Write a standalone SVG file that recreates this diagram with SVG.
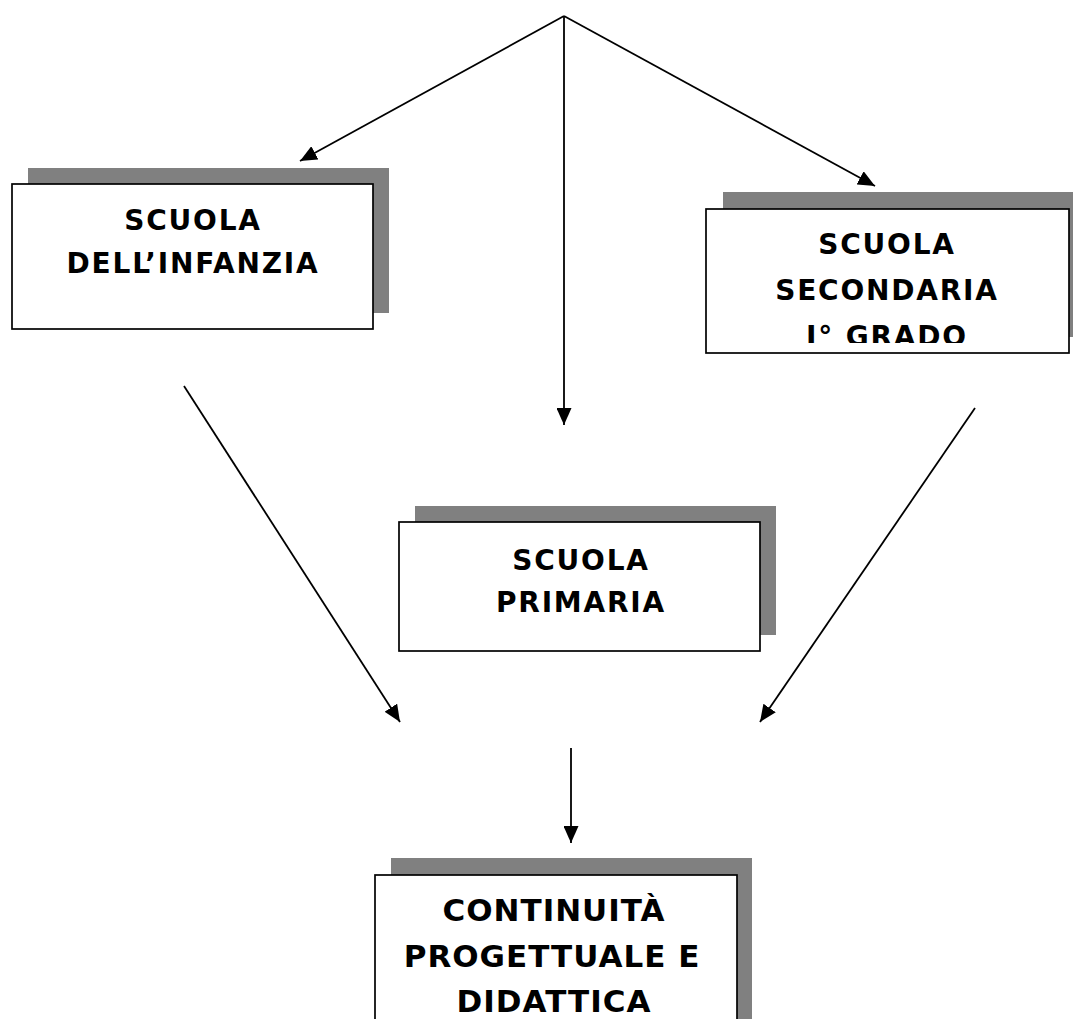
<svg xmlns="http://www.w3.org/2000/svg" width="1073" height="1019" viewBox="0 0 1073 1019">
<style>
.shadow{fill:#808080;stroke:none}
.box{fill:#ffffff;stroke:#000000;stroke-width:1.7}
.lbl{font-family:"DejaVu Sans",Verdana,sans-serif;font-weight:bold;font-size:28px;letter-spacing:1.8px;fill:#000000;text-anchor:middle}
.big{font-size:31px;letter-spacing:1px}
.conn line{stroke:#000000;stroke-width:1.8;fill:none;marker-end:url(#ah)}
</style>
<defs>
<marker id="ah" markerUnits="userSpaceOnUse" markerWidth="17" markerHeight="15" refX="17" refY="7.5" orient="auto">
<path d="M0,0 L17,7.5 L0,15 z" fill="#000000"/>
</marker>
<clipPath id="clipSec"><rect x="700" y="200" width="373" height="143"/></clipPath>
</defs>
<rect width="1073" height="1019" fill="#ffffff"/>
<g id="connectors" class="conn">
<line x1="564" y1="16" x2="300" y2="161"/>
<line x1="564" y1="16" x2="564" y2="425"/>
<line x1="564" y1="16" x2="875" y2="186"/>
<line x1="184" y1="386" x2="400" y2="722"/>
<line x1="975" y1="408" x2="760" y2="722"/>
<line x1="571" y1="748" x2="571" y2="843"/>
</g>
<g id="infanzia">
<rect class="shadow" x="28" y="168" width="361" height="145"/>
<rect class="box" x="12" y="184" width="361" height="145"/>
<text class="lbl" x="193" y="230">SCUOLA</text>
<text class="lbl" x="193" y="273">DELL’INFANZIA</text>
</g>
<g id="secondaria">
<rect class="shadow" x="723" y="192" width="362" height="145"/>
<rect class="box" x="706" y="209" width="363" height="144"/>
<text class="lbl" x="887" y="254">SCUOLA</text>
<text class="lbl" x="887" y="300">SECONDARIA</text>
<text class="lbl" x="887" y="346" clip-path="url(#clipSec)">I° GRADO</text>
</g>
<g id="primaria">
<rect class="shadow" x="415" y="506" width="361" height="129"/>
<rect class="box" x="399" y="522" width="361" height="129"/>
<text class="lbl" x="581" y="570">SCUOLA</text>
<text class="lbl" x="581" y="612">PRIMARIA</text>
</g>
<g id="continuita">
<rect class="shadow" x="391" y="858" width="361" height="170"/>
<rect class="box" x="375" y="875" width="362" height="160"/>
<text class="lbl big" x="554" y="921">CONTINUITÀ</text>
<text class="lbl big" x="552" y="967">PROGETTUALE E</text>
<text class="lbl big" x="554" y="1012">DIDATTICA</text>
</g>
</svg>
